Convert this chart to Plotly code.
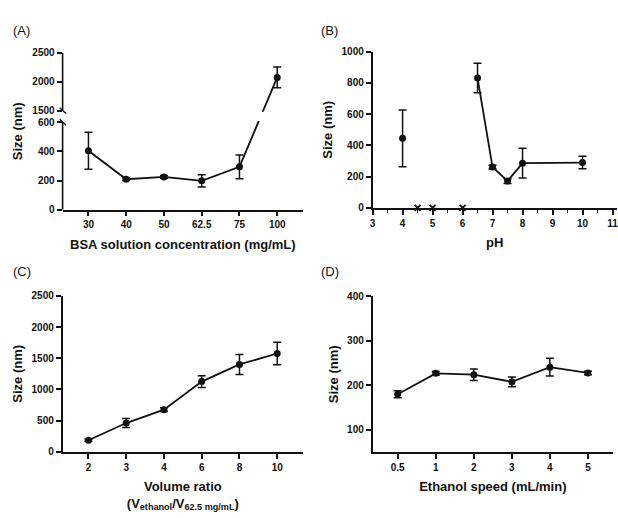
import plotly.graph_objects as go

# ---------------- data ----------------
# (A) BSA solution concentration
bsa_conc = ["30", "40", "50", "62.5", "75", "100"]
bsa_size = [405, 209, 225, 198, 294, 2075]
bsa_err = [127, 8, 10, 42, 81, 180]

# (B) pH
ph_single = [4]
ph_single_size = [445]
ph_single_err = [182]
ph_series = [6.5, 7, 7.5, 8, 10]
ph_series_size = [831, 261, 172, 286, 290]
ph_series_err = [94, 12, 15, 95, 40]
ph_none = [4.5, 5, 6]
ph_none_size = [0, 0, 0]

# (C) Volume ratio
ratio = ["2", "3", "4", "6", "8", "10"]
ratio_size = [185, 460, 675, 1125, 1400, 1575]
ratio_err = [15, 72, 30, 95, 160, 180]

# (D) Ethanol speed
speed = ["0.5", "1", "2", "3", "4", "5"]
speed_size = [180, 227, 224, 208, 241, 228]
speed_err = [8, 4, 13, 11, 20, 4]

# broken axis for (A)
LOW_MAX, UP_MIN, T_UP, K = 600, 1500, 680, 0.396
A_ticks = [0, 200, 400, 600, 1500, 2000, 2500]


def tr(v):
    return v if v <= LOW_MAX else T_UP + (v - UP_MIN) * K


W, H = 618, 518
FONT = "Liberation Sans, Arial, sans-serif"
BLACK = "#111111"

mk = dict(color=BLACK, size=7, symbol="circle")
ln = dict(color=BLACK, width=1.8)


def err(arr, arrm=None):
    d = dict(type="data", array=arr, color=BLACK, thickness=1.5, width=4, visible=True)
    if arrm is not None:
        d["symmetric"] = False
        d["arrayminus"] = arrm
    return d


fig = go.Figure()

# (A)
a_t = [tr(v) for v in bsa_size]
a_up = [tr(v + e) - tr(v) for v, e in zip(bsa_size, bsa_err)]
a_dn = [tr(v) - tr(v - e) for v, e in zip(bsa_size, bsa_err)]
fig.add_trace(go.Scatter(x=bsa_conc, y=a_t, mode="lines+markers", marker=mk, line=ln,
                         error_y=err(a_up, a_dn), xaxis="x", yaxis="y", cliponaxis=False))

# (B)
fig.add_trace(go.Scatter(x=ph_single, y=ph_single_size, mode="markers", marker=mk,
                         error_y=err(ph_single_err), xaxis="x2", yaxis="y2", cliponaxis=False))
fig.add_trace(go.Scatter(x=ph_series, y=ph_series_size, mode="lines+markers", marker=mk, line=ln,
                         error_y=err(ph_series_err), xaxis="x2", yaxis="y2", cliponaxis=False))
fig.add_trace(go.Scatter(x=ph_none, y=ph_none_size, mode="markers",
                         marker=dict(symbol="x-thin", size=6, color=BLACK, line=dict(width=2, color=BLACK)),
                         xaxis="x2", yaxis="y2", cliponaxis=False))

# (C)
fig.add_trace(go.Scatter(x=ratio, y=ratio_size, mode="lines+markers", marker=mk, line=ln,
                         error_y=err(ratio_err), xaxis="x3", yaxis="y3", cliponaxis=False))

# (D)
fig.add_trace(go.Scatter(x=speed, y=speed_size, mode="lines+markers", marker=mk, line=ln,
                         error_y=err(speed_err), xaxis="x4", yaxis="y4", cliponaxis=False))

tickfont = dict(family=FONT, size=10, color=BLACK, weight="bold")
titlefont = dict(family=FONT, size=13, color=BLACK, weight="bold")


def xax(domain, anchor, title, **kw):
    d = dict(domain=domain, anchor=anchor, showline=True, linecolor=BLACK, linewidth=1.6,
             ticks="outside", ticklen=5, tickwidth=1.5, tickcolor=BLACK, showgrid=False,
             zeroline=False, tickfont=tickfont, ticklabeloverflow="allow",
             title=dict(text=title, font=titlefont, standoff=10))
    d.update(kw)
    return d


def yax(domain, anchor, **kw):
    d = dict(domain=domain, anchor=anchor, showline=True, linecolor=BLACK, linewidth=1.6,
             ticks="outside", ticklen=5, tickwidth=1.5, tickcolor=BLACK, showgrid=False,
             zeroline=False, tickfont=tickfont,
             title=dict(text="Size (nm)", font=titlefont, standoff=6))
    d.update(kw)
    return d


def ydom(bottom_px, top_px):
    return [(H - bottom_px) / H, (H - top_px) / H]


fig.update_layout(
    width=W, height=H, margin=dict(l=0, r=0, t=0, b=0),
    paper_bgcolor="white", plot_bgcolor="white", showlegend=False,
    font=dict(family=FONT, color=BLACK),
    xaxis=xax([60 / W, 302 / W], "y", "BSA solution concentration (mg/mL)",
              type="category", range=[-0.684, 5.684]),
    yaxis=yax(ydom(208.5, 48), "x", range=[0, tr(2500)], showline=False,
              tickvals=[tr(v) for v in A_ticks], ticktext=[str(v) for v in A_ticks]),
    xaxis2=xax([372 / W, 1.0], "y2", "pH", range=[3, 11.15], tick0=3, dtick=1,
               minor=dict(dtick=0.5, ticks="outside", ticklen=3, tickwidth=1.2, tickcolor=BLACK)),
    yaxis2=yax(ydom(206.7, 46.7), "x2", range=[0, 1000], dtick=200),
    xaxis3=xax([60 / W, 302 / W], "y3",
               "Volume ratio<br>(V<sub>ethanol</sub>/V<sub>62.5 mg/mL</sub>)",
               type="category", range=[-0.684, 5.684]),
    yaxis3=yax(ydom(456.3, 296.7), "x3", range=[0, 2500], dtick=500),
    xaxis4=xax([372 / W, 614 / W], "y4", "Ethanol speed (mL/min)",
               type="category", range=[-0.66, 5.66]),
    yaxis4=yax(ydom(456.7, 297.3), "x4", range=[50, 400], tickvals=[100, 200, 300, 400]),
)

shapes = [
    # broken y axis for (A)
    dict(type="line", xref="x domain", yref="y", x0=0, x1=0, y0=0, y1=LOW_MAX,
         line=dict(color=BLACK, width=1.6)),
    dict(type="line", xref="x domain", yref="y", x0=0, x1=0, y0=UP_MIN and T_UP, y1=tr(2500),
         line=dict(color=BLACK, width=1.6)),
    # gap of the line across the break
    dict(type="rect", xref="x domain", yref="y", x0=0.02, x1=1, y0=LOW_MAX + 8, y1=T_UP - 8,
         fillcolor="white", line=dict(width=0), layer="above"),
    # break marks
    dict(type="line", xref="x domain", yref="y", x0=-0.012, x1=0.014, y0=T_UP + 20, y1=T_UP - 20,
         line=dict(color=BLACK, width=1.4)),
    dict(type="line", xref="x domain", yref="y", x0=-0.012, x1=0.014, y0=LOW_MAX + 20, y1=LOW_MAX - 20,
         line=dict(color=BLACK, width=1.4)),
]
fig.update_layout(shapes=shapes)

labels = [("(A)", 8, 25), ("(B)", 318, 25), ("(C)", 8, 272), ("(D)", 318, 272)]
fig.update_layout(annotations=[
    dict(text=t, x=x / W, y=(H - y) / H, xref="paper", yref="paper", xanchor="left",
         yanchor="middle", showarrow=False, font=dict(family=FONT, size=13, color=BLACK))
    for t, x, y in labels
])

fig.write_html("out.html")
